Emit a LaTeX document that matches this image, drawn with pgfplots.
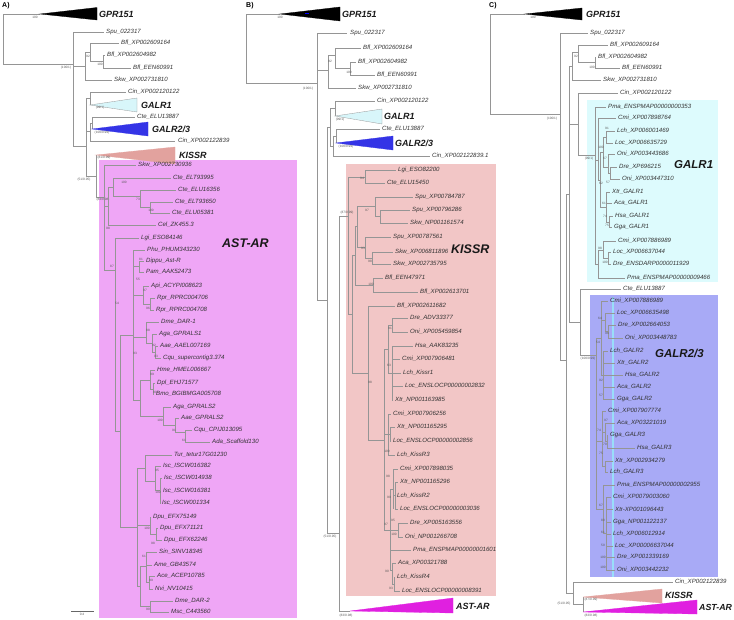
\documentclass[border=0pt]{standalone}
\usepackage{fontspec}
\setmainfont{Liberation Sans}
\usepackage{pgfplots}
\pgfplotsset{compat=1.18}
\definecolor{treeg}{HTML}{959595}
\definecolor{leafc}{HTML}{333333}
\definecolor{pinkbox}{HTML}{EFA6F6}
\definecolor{salbox}{HTML}{F2C6C6}
\definecolor{cyanbox}{HTML}{DDFBFD}
\definecolor{bluebox}{HTML}{A8AAF6}
\definecolor{galrone}{HTML}{D8F6FA}
\definecolor{galrtwo}{HTML}{3434E6}
\definecolor{kisstri}{HTML}{E2A29E}
\definecolor{asttri}{HTML}{E020E0}
\pgfplotsset{
  tree/.style={color=treeg, draw=treeg, line width=0.5pt, mark=none},
}
\tikzset{
  leaf/.style={anchor=west, inner sep=0pt, text=leafc, font=\fontsize{6.1}{7}\selectfont\itshape},
  boot/.style={inner sep=0pt, text=black!65, font=\fontsize{3.2}{3.5}\selectfont},
  big/.style={anchor=west, inner sep=0pt, text=black!90, font=\fontsize{9}{10}\selectfont\bfseries\itshape},
  huge/.style={anchor=west, inner sep=0pt, text=black!90, font=\fontsize{12.5}{14}\selectfont\bfseries\itshape},
}
\newcommand{\Hl}[3]{\addplot[tree] coordinates {(#1,#3) (#2,#3)};}
\newcommand{\Vl}[3]{\addplot[tree] coordinates {(#1,#2) (#1,#3)};}
\newcommand{\Lf}[3]{\node[leaf] at (axis cs:#1,#2) {#3};}
\newcommand{\Bs}[3]{\node[boot] at (axis cs:#1,#2) {#3};}
\newcommand{\Tri}[6]{\addplot[#6] coordinates {(#1,#2) (#3,#4) (#3,#5)} --cycle;}
\newcommand{\Rect}[5]{\addplot[fill=#5, draw=none] coordinates {(#1,#2) (#3,#2) (#3,#4) (#1,#4)} --cycle;}
\begin{document}
\begin{tikzpicture}
\begin{axis}[name=ax, width=734pt, height=619pt, scale only axis,
  xmin=0, xmax=734, ymin=0, ymax=619, y dir=reverse, hide axis, clip=false]
% ---------------- background boxes
\Rect{99}{160}{297}{618}{pinkbox}
\Rect{346}{164}{496}{596}{salbox}
\Rect{587}{100}{718}{282}{cyanbox}
\Rect{590}{295}{718}{577}{bluebox}
\addplot[draw=cyan!40, line width=1.4pt] coordinates {(613,297) (613,577)};
% ---------------- panel labels
\node[anchor=west, inner sep=0pt, font=\fontsize{7}{8}\selectfont\bfseries] at (axis cs:2,6) {A)};
\node[anchor=west, inner sep=0pt, font=\fontsize{7}{8}\selectfont\bfseries] at (axis cs:246,6) {B)};
\node[anchor=west, inner sep=0pt, font=\fontsize{7}{8}\selectfont\bfseries] at (axis cs:489,6) {C)};
% ================= PANEL A
\Vl{3}{14}{64}
\Hl{3}{40}{14}
\Tri{40}{14}{97}{7.5}{20}{fill=black, draw=black, line width=0.3pt}
\node[big] at (axis cs:99,14) {GPR151};
\Bs{35}{17.5}{100}
\Hl{3}{73}{64}
\Bs{66}{68}{(100/1)}
\Vl{73}{32}{146}
\Hl{73}{104}{32} \Lf{106}{32}{Spu\_022317}
\Hl{73}{85}{66}
\Vl{85}{52}{80}
\Hl{85}{90}{52}
\Vl{90}{43}{61}
\Hl{90}{119}{43} \Lf{121}{43}{Bfl\_XP002609164}
\Hl{90}{103}{61}
\Vl{103}{55}{68}
\Hl{103}{105}{55} \Lf{107}{55}{Bfl\_XP002604982}
\Hl{103}{131}{68} \Lf{133}{68}{Bfl\_EEN60991}
\Hl{85}{112}{80} \Lf{114}{80}{Skw\_XP002731810}
\Bs{88}{56}{92} \Bs{100}{64.5}{100}
\Hl{73}{86}{146}
\Vl{86}{98}{176}
\Hl{86}{90}{98}
\Vl{90}{92}{105}
\Hl{90}{126}{92} \Lf{128}{92}{Cin\_XP002120122}
\Tri{90}{105}{137}{98}{112}{fill=galrone, draw=treeg, line width=0.3pt}
\node[big] at (axis cs:141,105) {GALR1};
\Bs{100}{108}{(99/1)}
\Hl{86}{90}{131}
\Vl{90}{123}{141}
\Hl{90}{92}{123}
\Vl{92}{117}{129}
\Hl{92}{135}{117} \Lf{137}{117}{Cte\_ELU13887}
\Tri{92}{129}{148}{122}{136}{fill=galrtwo, draw=galrtwo, line width=0.3pt}
\node[big] at (axis cs:152,129) {GALR2/3};
\Bs{102}{132.5}{(100/0.99)}
\Hl{90}{175}{141} \Lf{178}{141}{Cin\_XP002122839}
\Hl{86}{96}{176}
\Bs{84}{179.5}{(51/0.95)}
\Vl{96}{155}{197}
\Tri{96}{155}{175}{147}{164}{fill=kisstri, draw=kisstri, line width=0.3pt}
\node[big] at (axis cs:179,155) {KISSR};
\Bs{104}{157.5}{(81/0.99)}
\Hl{96}{104}{197}
\Bs{103}{200}{(83/0.98)}
% AST-AR clade (A)
\Vl{104}{165}{270}
\Hl{104}{136}{165} \Lf{138}{165}{Skw\_XP002730936}
\Hl{104}{108}{206}
\Vl{108}{187}{225}
\Hl{108}{113}{187}
\Vl{113}{178}{196}
\Hl{113}{171}{178} \Lf{173}{178}{Cte\_ELT93995}
\Hl{113}{140}{196}
\Vl{140}{190}{207}
\Hl{140}{176}{190} \Lf{178}{190}{Cte\_ELU16356}
\Hl{140}{150}{207}
\Vl{150}{202}{213}
\Hl{150}{173}{202} \Lf{175}{202}{Cte\_ELT93650}
\Hl{150}{170}{213} \Lf{172}{213}{Cte\_ELU05381}
\Hl{108}{156}{225} \Lf{158}{225}{Cel\_ZK455.3}
\Hl{104}{115}{270}
\Vl{115}{238}{431}
\Hl{115}{139}{238} \Lf{141}{238}{Lgi\_ESO84146}
\Hl{115}{120}{431}
\Vl{120}{335}{527}
\Hl{120}{133}{335}
\Vl{133}{250}{400}
\Hl{133}{145}{250} \Lf{147}{250}{Phu\_PHUM343230}
\Hl{133}{139}{266}
\Vl{139}{261}{272}
\Hl{139}{144}{261} \Lf{146}{261}{Dippu\_Ast-R}
\Hl{139}{144}{272} \Lf{146}{272}{Pam\_AAK52473}
\Hl{133}{143}{295}
\Vl{143}{286}{304}
\Hl{143}{149}{286} \Lf{151}{286}{Api\_ACYPI008623}
\Hl{143}{150}{304}
\Vl{150}{298}{310}
\Hl{150}{155}{298} \Lf{157}{298}{Rpr\_RPRC004706}
\Hl{150}{154}{310} \Lf{156}{310}{Rpr\_RPRC004708}
\Hl{133}{146}{337}
\Vl{146}{322}{343}
\Hl{146}{159}{322} \Lf{161}{322}{Dme\_DAR-1}
\Hl{146}{152}{343}
\Vl{152}{334}{352}
\Hl{152}{157}{334} \Lf{159}{334}{Aga\_GPRALS1}
\Hl{152}{155}{352}
\Vl{155}{346}{358}
\Hl{155}{158}{346} \Lf{160}{346}{Aae\_AAEL007169}
\Hl{155}{161}{358} \Lf{163}{358}{Cqu\_supercontig3.374}
\Hl{133}{140}{400}
\Vl{140}{380}{416}
\Hl{140}{150}{380}
\Vl{150}{370}{389}
\Hl{150}{155}{370} \Lf{157}{370}{Hme\_HMEL006667}
\Hl{150}{153}{389}
\Vl{153}{383}{394}
\Hl{153}{155}{383} \Lf{157}{383}{Dpl\_EHJ71577}
\Hl{153}{154}{394} \Lf{156}{394}{Bmo\_BGIBMGA005708}
\Hl{140}{163}{416}
\Vl{163}{407}{425}
\Hl{163}{171}{407} \Lf{173}{407}{Aga\_GPRALS2}
\Hl{163}{175}{425}
\Vl{175}{418}{432}
\Hl{175}{179}{418} \Lf{181}{418}{Aae\_GPRALS2}
\Hl{175}{185}{432}
\Vl{185}{430}{442}
\Hl{185}{192}{430} \Lf{194}{430}{Cqu\_CPIJ013095}
\Hl{185}{210}{442} \Lf{212}{442}{Ada\_Scaffold130}
\Hl{120}{137}{527}
\Vl{137}{468}{586}
\Hl{137}{145}{468}
\Vl{145}{455}{481}
\Hl{145}{172}{455} \Lf{174}{455}{Tur\_tetur17G01230}
\Hl{145}{155}{481}
\Vl{155}{466}{490}
\Hl{155}{161}{466} \Lf{163}{466}{Isc\_ISCW016382}
\Hl{155}{160}{490}
\Vl{160}{478}{503}
\Hl{160}{162}{478} \Lf{164}{478}{Isc\_ISCW014938}
\Hl{160}{161}{491} \Lf{163}{491}{Isc\_ISCW016381}
\Hl{160}{161}{503} \Lf{162}{503}{Isc\_ISCW001334}
\Hl{137}{150}{525}
\Vl{150}{517}{534}
\Hl{150}{151}{517} \Lf{153}{517}{Dpu\_EFX75149}
\Hl{150}{156}{534}
\Vl{156}{528}{540}
\Hl{156}{158}{528} \Lf{160}{528}{Dpu\_EFX71121}
\Hl{156}{162}{540} \Lf{164}{540}{Dpu\_EFX62246}
\Hl{137}{140}{586}
\Vl{140}{566}{606}
\Hl{140}{146}{566}
\Vl{146}{552}{582}
\Hl{146}{157}{552} \Lf{159}{552}{Sin\_SINV18345}
\Hl{146}{152}{565} \Lf{154}{565}{Ame\_GB43574}
\Hl{146}{149}{582}
\Vl{149}{576}{589}
\Hl{149}{155}{576} \Lf{157}{576}{Ace\_ACEP10785}
\Hl{149}{153}{589} \Lf{155}{589}{Nvi\_NV10415}
\Hl{140}{150}{606}
\Vl{150}{601}{612}
\Hl{150}{173}{601} \Lf{175}{601}{Dme\_DAR-2}
\Hl{150}{169}{612} \Lf{171}{612}{Msc\_C443560}
\Bs{124}{182}{100} \Bs{138}{199}{73} \Bs{151}{210}{100} \Bs{108}{228}{98}
\Bs{112}{266}{87} \Bs{117}{303}{54} \Bs{135}{353}{93} \Bs{141}{259}{81}
\Bs{138}{279}{55} \Bs{145}{290}{97} \Bs{148}{308}{96} \Bs{148}{330}{88}
\Bs{154}{345}{92} \Bs{156}{356}{93} \Bs{152}{374}{99} \Bs{155}{392}{90}
\Bs{160}{420}{100} \Bs{174}{430}{91} \Bs{184}{440}{61} \Bs{157}{470}{95}
\Bs{158}{492}{100} \Bs{147}{528}{100} \Bs{153}{543}{98} \Bs{144}{556}{61}
\Bs{151}{580}{99} \Bs{148}{609}{90}
\node[huge] at (axis cs:222,243) {AST-AR};
% scale bar
\addplot[draw=black!60, line width=0.4pt] coordinates {(71,611) (94,611)};
\Bs{82}{614}{0.4}
% ================= PANEL B
\Vl{246}{14}{83}
\Hl{246}{280}{14}
\Tri{280}{14}{340}{7}{21}{fill=black, draw=black, line width=0.3pt}
\addplot[draw=blue, line width=1pt] coordinates {(305,13) (309,13)};
\node[big] at (axis cs:342,14) {GPR151};
\Bs{280}{17.5}{100}
\Hl{246}{317}{83}
\Bs{308}{89}{(100/1)}
\Vl{317}{33}{300}
\Hl{317}{347}{33} \Lf{350}{33}{Spu\_022317}
\Hl{317}{328}{70}
\Vl{328}{55}{88}
\Hl{328}{335}{55}
\Vl{335}{48}{68}
\Hl{335}{361}{48} \Lf{363}{48}{Bfl\_XP002609164}
\Hl{335}{350}{68}
\Vl{350}{62}{75}
\Hl{350}{356}{62} \Lf{358}{62}{Bfl\_XP002604982}
\Hl{350}{375}{75} \Lf{377}{75}{Bfl\_EEN60991}
\Hl{328}{356}{88} \Lf{358}{88}{Skw\_XP002731810}
\Bs{330}{61}{92} \Bs{349}{72.5}{100}
\Hl{317}{327}{300}
\Vl{327}{127}{533}
\Hl{327}{330}{127}
\Vl{330}{108}{146}
\Hl{330}{335}{108}
\Vl{335}{101}{116}
\Hl{335}{375}{101} \Lf{377}{101}{Cin\_XP002120122}
\Tri{335}{116}{382}{109}{124}{fill=galrone, draw=treeg, line width=0.3pt}
\node[big] at (axis cs:384,116) {GALR1};
\Bs{340}{120}{(99/1)}
\Hl{330}{333}{146}
\Vl{333}{136}{156}
\Hl{333}{336}{136}
\Vl{336}{129}{143}
\Hl{336}{380}{129} \Lf{382}{129}{Cte\_ELU13887}
\Tri{336}{143}{393}{136}{150}{fill=galrtwo, draw=galrtwo, line width=0.3pt}
\node[big] at (axis cs:395,143) {GALR2/3};
\Bs{346}{147}{(100/0.99)}
\Hl{333}{430}{156} \Lf{432}{156}{Cin\_XP002122839.1}
\Hl{327}{339}{533}
\Bs{330}{537}{(51/0.95)}
\Vl{339}{216}{611}
\Hl{339}{348}{216}
\Bs{347}{213}{(87/0.99)}
\Hl{339}{350}{611}
\Tri{350}{611}{453}{598}{613}{fill=asttri, draw=asttri, line width=0.3pt}
\node[big] at (axis cs:456,606) {AST-AR};
\Bs{346}{615.5}{(83/0.98)}
% KISSR clade (B)
\Vl{348}{177}{314}
\Hl{348}{365}{177}
\Vl{365}{170}{183}
\Hl{365}{396}{170} \Lf{398}{170}{Lgi\_ESO82200}
\Hl{365}{385}{183} \Lf{387}{183}{Cte\_ELU15450}
\Hl{348}{352}{314}
\Vl{352}{255}{373}
\Hl{352}{355}{255}
\Vl{355}{226}{285}
\Hl{355}{357}{226}
\Vl{357}{206}{247}
\Hl{357}{375}{206}
\Vl{375}{197}{216}
\Hl{375}{413}{197} \Lf{415}{197}{Spu\_XP00784787}
\Hl{375}{380}{216}
\Vl{380}{210}{223}
\Hl{380}{410}{210} \Lf{412}{210}{Spu\_XP00796286}
\Hl{380}{408}{223} \Lf{410}{223}{Skw\_NP001161574}
\Hl{357}{365}{247}
\Vl{365}{237}{258}
\Hl{365}{391}{237} \Lf{393}{237}{Spu\_XP00787561}
\Hl{365}{372}{258}
\Vl{372}{252}{264}
\Hl{372}{393}{252} \Lf{395}{252}{Skw\_XP006811896}
\Hl{372}{391}{264} \Lf{393}{264}{Skw\_XP002735795}
\Hl{355}{373}{285}
\Vl{373}{278}{292}
\Hl{373}{383}{278} \Lf{385}{278}{Bfl\_EEN47971}
\Hl{373}{418}{292} \Lf{420}{292}{Bfl\_XP002613701}
\Hl{352}{368}{373}
\Vl{368}{306}{440}
\Hl{368}{395}{306} \Lf{397}{306}{Bfl\_XP002611682}
\Hl{368}{384}{440}
\Vl{384}{349}{530}
\Hl{384}{388}{349}
\Vl{388}{325}{373}
\Hl{388}{392}{325}
\Vl{392}{318}{332}
\Hl{392}{408}{318} \Lf{410}{318}{Dre\_ADV33377}
\Hl{392}{408}{332} \Lf{410}{332}{Oni\_XP005459854}
\Hl{388}{392}{373}
\Vl{392}{346}{400}
\Hl{392}{413}{346} \Lf{415}{346}{Hsa\_AAK83235}
\Hl{392}{400}{359} \Lf{402}{359}{Cmi\_XP007906481}
\Hl{392}{401}{373} \Lf{403}{373}{Lch\_Kissr1}
\Hl{392}{403}{386} \Lf{405}{386}{Loc\_ENSLOCP00000002832}
\Hl{392}{393}{400} \Lf{395}{400}{Xtr\_NP001163985}
\Hl{384}{388}{434}
\Vl{388}{414}{455}
\Hl{388}{391}{414} \Lf{393}{414}{Cmi\_XP007906256}
\Hl{388}{390}{434}
\Vl{390}{427}{441}
\Hl{390}{395}{427} \Lf{397}{427}{Xtr\_NP001165295}
\Hl{390}{391}{441} \Lf{393}{441}{Loc\_ENSLOCP00000002856}
\Hl{388}{395}{455} \Lf{397}{455}{Lch\_KissR3}
\Hl{384}{390}{530}
\Vl{390}{489}{570}
\Hl{390}{393}{489}
\Vl{393}{469}{509}
\Hl{393}{398}{469} \Lf{400}{469}{Cmi\_XP007898035}
\Hl{393}{395}{495}
\Vl{395}{482}{509}
\Hl{395}{398}{482} \Lf{400}{482}{Xtr\_NP001165296}
\Lf{397}{496}{Lch\_KissR2}
\Hl{395}{398}{509} \Lf{400}{509}{Loc\_ENSLOCP00000003036}
\Hl{390}{398}{530}
\Vl{398}{523}{537}
\Hl{398}{408}{523} \Lf{410}{523}{Dre\_XP005163556}
\Hl{398}{403}{537} \Lf{405}{537}{Oni\_NP001266708}
\Hl{390}{411}{550} \Lf{413}{550}{Pma\_ENSPMAP00000001601}
\Hl{390}{392}{570}
\Vl{392}{563}{584}
\Hl{392}{396}{563} \Lf{398}{563}{Aca\_XP00321788}
\Hl{392}{394}{584}
\Vl{394}{577}{591}
\Hl{394}{395}{577} \Lf{397}{577}{Lch\_KissR4}
\Hl{394}{400}{591} \Lf{402}{591}{Loc\_ENSLOCP00000008391}
\Bs{362}{178}{94} \Bs{367}{210}{97} \Bs{363}{248}{93} \Bs{370}{261}{98}
\Bs{371}{284}{100} \Bs{370}{382}{98} \Bs{390}{328}{91} \Bs{389}{365}{63}
\Bs{387}{451}{100} \Bs{388}{476}{98} \Bs{389}{497}{99} \Bs{386}{524}{97}
\Bs{393}{520}{95} \Bs{394}{534}{100} \Bs{387}{571}{90} \Bs{391}{588}{93}
\node[huge] at (axis cs:451,249) {KISSR};
% ================= PANEL C
\Vl{490}{14}{114}
\Hl{490}{525}{14}
\Tri{525}{14}{582}{8}{20}{fill=black, draw=black, line width=0.3pt}
\node[big] at (axis cs:586,14) {GPR151};
\Bs{533}{17.5}{100}
\Hl{490}{560}{114}
\Bs{552}{119}{(100/1)}
\Vl{560}{33}{360}
\Hl{560}{588}{33} \Lf{590}{33}{Spu\_022317}
\Hl{560}{566}{360}
\Vl{566}{194}{593}
\Hl{566}{569}{194}
\Vl{569}{66}{322}
\Hl{569}{572}{66}
\Vl{572}{52}{80}
\Hl{572}{578}{52}
\Vl{578}{45}{62}
\Hl{578}{608}{45} \Lf{610}{45}{Bfl\_XP002609164}
\Hl{578}{595}{62}
\Vl{595}{57}{68}
\Hl{595}{596}{57} \Lf{598}{57}{Bfl\_XP002604982}
\Hl{595}{620}{68} \Lf{622}{68}{Bfl\_EEN60991}
\Hl{572}{601}{80} \Lf{603}{80}{Skw\_XP002731810}
\Bs{576}{56}{92} \Bs{592}{67}{100}
\Hl{569}{578}{124}
\Vl{578}{93}{155}
\Hl{578}{618}{93} \Lf{620}{93}{Cin\_XP002120122}
\Hl{578}{595}{155}
\Bs{589}{159}{(99/1)}
% GALR1 clade (C)
\Vl{595}{107}{264}
\Hl{595}{606}{107} \Lf{608}{107}{Pma\_ENSPMAP00000000353}
\Hl{595}{598}{160}
\Vl{598}{118}{180}
\Hl{598}{616}{118} \Lf{618}{118}{Cmi\_XP007898764}
\Hl{598}{600}{180}
\Vl{600}{152}{207}
\Hl{600}{603}{152}
\Vl{603}{137}{167}
\Hl{603}{606}{137}
\Vl{606}{131}{143}
\Hl{606}{615}{131} \Lf{617}{131}{Lch\_XP006001469}
\Hl{606}{613}{143} \Lf{615}{143}{Loc\_XP006635729}
\Hl{603}{608}{167}
\Vl{608}{154}{173}
\Hl{608}{615}{154} \Lf{617}{154}{Oni\_XP003443686}
\Hl{608}{610}{173}
\Vl{610}{167}{179}
\Hl{610}{617}{167} \Lf{619}{167}{Dre\_XP696215}
\Hl{610}{620}{179} \Lf{622}{179}{Oni\_XP003447310}
\Hl{600}{606}{207}
\Vl{606}{192}{222}
\Hl{606}{610}{192} \Lf{612}{192}{Xtr\_GALR1}
\Hl{606}{612}{203} \Lf{614}{203}{Aca\_GALR1}
\Hl{606}{609}{222}
\Vl{609}{216}{227}
\Hl{609}{613}{216} \Lf{615}{216}{Hsa\_GALR1}
\Hl{609}{612}{227} \Lf{614}{227}{Gga\_GALR1}
\Hl{595}{598}{264}
\Vl{598}{250}{278}
\Hl{598}{603}{250}
\Vl{603}{241}{258}
\Hl{603}{616}{241} \Lf{618}{241}{Cmi\_XP007886989}
\Hl{603}{608}{258}
\Vl{608}{252}{264}
\Hl{608}{611}{252} \Lf{613}{252}{Loc\_XP006637044}
\Hl{608}{611}{264} \Lf{613}{264}{Dre\_ENSDARP0000011929}
\Hl{598}{625}{278} \Lf{627}{278}{Pma\_ENSPMAP00000009466}
\Bs{607}{128}{91} \Bs{601}{147}{100} \Bs{605}{158}{67} \Bs{601}{183}{62}
\Bs{608}{182}{57} \Bs{604}{203}{61} \Bs{605}{216}{74} \Bs{607}{225}{75}
\Bs{600}{248}{98} \Bs{605}{262}{100}
\node[huge, font=\fontsize{11.5}{13}\selectfont\bfseries\itshape] at (axis cs:674,165) {GALR1};
% GALR2/3 (C)
\Hl{569}{580}{322}
\Vl{580}{289}{355}
\Hl{580}{621}{289} \Lf{623}{289}{Cte\_ELU13887}
\Hl{580}{596}{355}
\Bs{588}{359}{(100/0.99)}
\Vl{596}{338}{509}
\Hl{596}{601}{338}
\Vl{601}{301}{375}
\Hl{601}{608}{301} \Lf{610}{301}{Cmi\_XP007886989}
\Hl{601}{605}{320}
\Vl{605}{313}{331}
\Hl{605}{615}{313} \Lf{617}{313}{Loc\_XP006635498}
\Hl{605}{608}{331}
\Vl{608}{325}{338}
\Hl{608}{616}{325} \Lf{618}{325}{Dre\_XP002664053}
\Hl{608}{623}{338} \Lf{625}{338}{Oni\_XP003448783}
\Hl{601}{603}{375}
\Vl{603}{351}{399}
\Hl{603}{608}{351} \Lf{610}{351}{Lch\_GALR2}
\Hl{603}{615}{363} \Lf{617}{363}{Xtr\_GALR2}
\Hl{603}{623}{375} \Lf{625}{375}{Hsa\_GALR2}
\Hl{603}{615}{387} \Lf{617}{387}{Aca\_GALR2}
\Hl{603}{615}{399} \Lf{617}{399}{Gga\_GALR2}
\Hl{596}{602}{441}
\Vl{602}{411}{466}
\Hl{602}{606}{411} \Lf{608}{411}{Cmi\_XP007907774}
\Hl{602}{605}{432}
\Vl{605}{423}{441}
\Hl{605}{615}{423} \Lf{617}{423}{Aca\_XP03221019}
\Hl{605}{607}{441}
\Vl{607}{435}{448}
\Hl{607}{608}{435} \Lf{610}{435}{Gga\_GALR3}
\Hl{607}{635}{448} \Lf{637}{448}{Hsa\_GALR3}
\Hl{602}{605}{466}
\Vl{605}{461}{472}
\Hl{605}{613}{461} \Lf{615}{461}{Xtr\_XP002934279}
\Hl{605}{608}{472} \Lf{610}{472}{Lch\_GALR3}
\Hl{596}{603}{509}
\Vl{603}{485}{533}
\Hl{603}{615}{485} \Lf{617}{485}{Pma\_ENSPMAP00000002955}
\Hl{603}{606}{533}
\Vl{606}{497}{570}
\Hl{606}{611}{497} \Lf{613}{497}{Cmi\_XP0079003060}
\Hl{606}{613}{509} \Lf{615}{509}{Xtr-XP001096443}
\Hl{606}{611}{522} \Lf{613}{522}{Gga\_NP001122137}
\Hl{606}{611}{534} \Lf{613}{534}{Lch\_XP006012914}
\Hl{606}{613}{546} \Lf{615}{546}{Loc\_XP00006637044}
\Hl{606}{615}{557} \Lf{617}{557}{Dre\_XP001339169}
\Hl{606}{615}{570} \Lf{617}{570}{Oni\_XP003442232}
\Bs{600}{318}{64} \Bs{607}{333}{96} \Bs{598}{342}{54} \Bs{601}{380}{92}
\Bs{601}{395}{57} \Bs{599}{430}{74} \Bs{606}{420}{97} \Bs{605}{444}{70}
\Bs{601}{453}{75} \Bs{601}{505}{67} \Bs{603}{520}{80} \Bs{603}{532}{61}
\Bs{603}{545}{50} \Bs{603}{557}{100} \Bs{603}{567}{100}
\node[huge, font=\fontsize{11.5}{13}\selectfont\bfseries\itshape] at (axis cs:655,353) {GALR2/3};
% lower part (C)
\Hl{566}{573}{593}
\Vl{573}{582}{604}
\Hl{573}{673}{582} \Lf{675}{582}{Cin\_XP002122839}
\Hl{573}{583}{604}
\Bs{564}{604}{(51/0.95)}
\Vl{583}{597}{612}
\Tri{583}{597}{662}{589}{603}{fill=kisstri, draw=kisstri, line width=0.3pt}
\node[big] at (axis cs:665,595) {KISSR};
\Bs{591}{599.5}{(87/0.99)}
\Tri{583}{612}{697}{600}{614}{fill=asttri, draw=asttri, line width=0.3pt}
\node[big, font=\fontsize{8.8}{10}\selectfont\bfseries\itshape] at (axis cs:699,607) {AST-AR};
\Bs{591}{616}{(83/0.98)}
\end{axis}
\pgfresetboundingbox
\path (ax.south west) rectangle (ax.north east);
\end{tikzpicture}
\end{document}
